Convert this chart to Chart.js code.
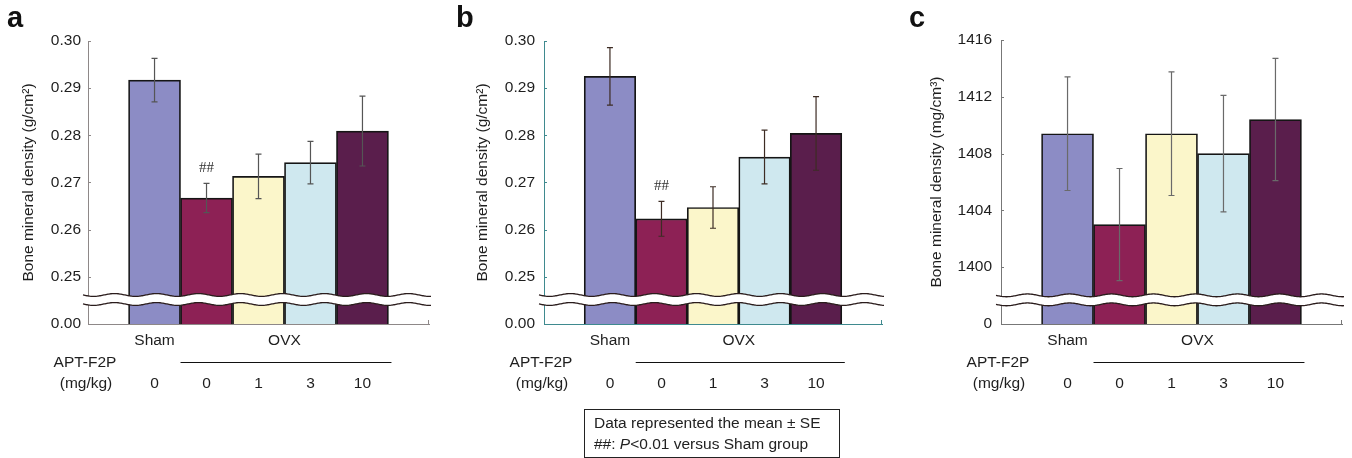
<!DOCTYPE html>
<html>
<head>
<meta charset="utf-8">
<script src="https://cdn.jsdelivr.net/npm/chart.js@4.4.1/dist/chart.umd.min.js"></script>
<style>
body { margin: 0; background: #fff; width: 1352px; height: 458px; position: relative; overflow: hidden; font-family: "Liberation Sans", Arial, sans-serif; color: #222; }
.panel { position: absolute; top: 0; height: 458px; }
.letter { position: absolute; top: 3px; font-weight: bold; font-size: 29px; line-height: 29px; color: #111; }
#note { position: absolute; left: 584px; top: 409px; width: 256px; height: 49px; border: 1px solid #222; box-sizing: border-box; font-size: 15.5px; line-height: 21px; padding: 2px 0 0 9px; }
</style>
</head>
<body>
<div class="panel" style="left:0;width:450px"><canvas id="chartA"></canvas></div>
<div class="panel" style="left:450px;width:450px"><canvas id="chartB"></canvas></div>
<div class="panel" style="left:900px;width:452px"><canvas id="chartC"></canvas></div>
<div class="letter" style="left:7px">a</div>
<div class="letter" style="left:456px">b</div>
<div class="letter" style="left:909px">c</div>
<div id="note">Data represented the mean ± SE<br>##: <i>P</i>&lt;0.01 versus Sham group</div>
<script>
//--------------------------------DATA---------------------------------------
const groups = ['Sham', 'OVX', 'OVX', 'OVX', 'OVX'];
const doses = ['0', '0', '1', '3', '10'];
const sigMarks = ['', '##', '', '', ''];

// panel a
const meanA = [0.2917, 0.2667, 0.2713, 0.2742, 0.2809];
const seA = [0.0046, 0.0031, 0.0047, 0.0045, 0.0074];
// panel b
const meanB = [0.2925, 0.2623, 0.2647, 0.2754, 0.2804];
const seB = [0.0061, 0.0037, 0.0044, 0.0057, 0.0078];
// panel c
const meanC = [1409.4, 1403.0, 1409.4, 1408.0, 1410.4];
const seC = [4.0, 3.95, 4.35, 4.1, 4.3];

// axis ticks (bottom tick stands for the broken "0" part of the axis)
const ticksAB = [0.24, 0.25, 0.26, 0.27, 0.28, 0.29, 0.30];
const tickLabelsAB = ['0.00', '0.25', '0.26', '0.27', '0.28', '0.29', '0.30'];
const ticksC = [1396, 1400, 1404, 1408, 1412, 1416];
const tickLabelsC = ['0', '1400', '1404', '1408', '1412', '1416'];

const barColors = ['#8c8cc5', '#8d2155', '#fbf6ca', '#cfe8ef', '#5a1e4c'];

//--------------------------------PLUGIN---------------------------------------
const extras = {
    id: 'extras',
    afterDatasetsDraw(chart, args, o) {
        const ctx = chart.ctx;
        const ys = chart.scales.y;
        const area = chart.chartArea;
        const bars = chart.getDatasetMeta(0).data;

        // axis break
        const yb = ys.getPixelForValue(o.breakAt);
        const x0 = area.left - 5, x1 = area.right + 2;
        const wave = (x, off) => yb + off + 1.4 * Math.sin((x - x0) / 42 * 2 * Math.PI);
        ctx.save();
        ctx.beginPath();
        for (let x = x0; x <= x1; x++) ctx.lineTo(x, wave(x, -4.5));
        for (let x = x1; x >= x0; x--) ctx.lineTo(x, wave(x, 4.5));
        ctx.closePath();
        ctx.fillStyle = '#fff';
        ctx.fill();
        ctx.strokeStyle = '#2a1c1c';
        ctx.lineWidth = 1.3;
        [-4.5, 4.5].forEach(off => {
            ctx.beginPath();
            for (let x = x0; x <= x1; x++) ctx.lineTo(x, wave(x, off));
            ctx.stroke();
        });

        // error bars
        ctx.strokeStyle = o.errColor;
        ctx.lineWidth = 1.2;
        bars.forEach((bar, i) => {
            const top = ys.getPixelForValue(o.mean[i] + o.se[i]);
            const bot = ys.getPixelForValue(o.mean[i] - o.se[i]);
            ctx.beginPath();
            ctx.moveTo(bar.x, top); ctx.lineTo(bar.x, bot);
            ctx.moveTo(bar.x - 3, top); ctx.lineTo(bar.x + 3, top);
            ctx.moveTo(bar.x - 3, bot); ctx.lineTo(bar.x + 3, bot);
            ctx.stroke();
            if (o.sig && o.sig[i]) {
                ctx.fillStyle = '#333';
                ctx.font = '15px "Liberation Serif", serif';
                ctx.textAlign = 'center';
                ctx.textBaseline = 'middle';
                ctx.fillText(o.sig[i], bar.x, top - 15);
            }
        });

        // small inward ticks on the y axis and end tick on the x axis
        ctx.strokeStyle = o.axisColor;
        ctx.lineWidth = 1;
        ys.ticks.forEach(t => {
            const y = Math.round(ys.getPixelForValue(t.value)) + 0.5;
            ctx.beginPath();
            ctx.moveTo(area.left, y); ctx.lineTo(area.left + 3, y);
            ctx.stroke();
        });
        ctx.beginPath();
        ctx.moveTo(area.right - 0.5, area.bottom); ctx.lineTo(area.right - 0.5, area.bottom - 4);
        ctx.stroke();

        // group and dose labels under the axis
        const b = area.bottom;
        ctx.fillStyle = '#1e1e1e';
        ctx.font = '15.5px "Liberation Sans", Arial, sans-serif';
        ctx.textAlign = 'center';
        ctx.textBaseline = 'middle';
        ctx.fillText(groups[0], bars[0].x, b + 17);
        const ovxX = (bars[1].x + bars[bars.length - 1].x) / 2;
        ctx.fillText(groups[1], ovxX, b + 17);
        doses.forEach((d, i) => ctx.fillText(d, bars[i].x, b + 60));
        ctx.fillText('APT-F2P', area.left - 3, b + 39);
        ctx.fillText('(mg/kg)', area.left - 2, b + 60);

        const last = bars[bars.length - 1];
        ctx.strokeStyle = '#111';
        ctx.lineWidth = 1;
        ctx.beginPath();
        ctx.moveTo(bars[1].x - bars[1].width / 2, Math.round(b + 38) + 0.5);
        ctx.lineTo(last.x + last.width / 2 + 3, Math.round(b + 38) + 0.5);
        ctx.stroke();
        ctx.restore();
    }
};

//--------------------------------CHARTS---------------------------------------
function makeChart(id, p) {
    return new Chart(document.getElementById(id), {
        type: 'bar',
        data: {
            datasets: [{
                data: p.mean.map((v, i) => ({ x: i, y: v })),
                backgroundColor: barColors,
                borderColor: '#151515',
                borderWidth: 1.7,
                borderSkipped: false,
                barPercentage: 1,
                categoryPercentage: 1
            }]
        },
        options: {
            responsive: true,
            maintainAspectRatio: false,
            animation: false,
            layout: { padding: { top: p.top, right: p.padRight, left: 0, bottom: 0 } },
            plugins: {
                legend: { display: false },
                tooltip: { enabled: false },
                extras: p
            },
            scales: {
                x: {
                    type: 'linear',
                    offset: false,
                    min: -1.28,
                    max: 5.28,
                    ticks: { display: false },
                    grid: { display: false, drawTicks: false, offset: false },
                    border: { display: true, color: p.axisColor, width: 1 },
                    afterFit: s => { s.height = 134; }
                },
                y: {
                    min: p.ticks[0],
                    max: p.ticks[p.ticks.length - 1],
                    afterBuildTicks: s => { s.ticks = p.ticks.map(v => ({ value: v })); },
                    afterFit: s => { s.width = p.axisWidth; },
                    ticks: {
                        autoSkip: false,
                        padding: p.tickPad,
                        color: '#1e1e1e',
                        font: { family: '"Liberation Sans", Arial, sans-serif', size: 15.5 },
                        callback: (v, i) => p.tickLabels[i]
                    },
                    grid: { display: false, drawTicks: false },
                    border: { display: true, color: p.axisColor, width: 1 },
                    title: {
                        display: true,
                        text: p.yTitle,
                        color: '#1e1e1e',
                        font: { family: '"Liberation Sans", Arial, sans-serif', size: 15.5 },
                        padding: { top: p.titlePad, bottom: 0 }
                    }
                }
            }
        },
        plugins: [extras]
    });
}

makeChart('chartA', {
    mean: meanA, se: seA, sig: sigMarks, ticks: ticksAB, tickLabels: tickLabelsAB,
    yTitle: 'Bone mineral density (g/cm²)', axisColor: '#8e8888', errColor: '#555',
    top: 41, padRight: 21, axisWidth: 88, tickPad: 7, titlePad: 19, breakAt: 0.2452
});
makeChart('chartB', {
    mean: meanB, se: seB, sig: sigMarks, ticks: ticksAB, tickLabels: tickLabelsAB,
    yTitle: 'Bone mineral density (g/cm²)', axisColor: '#3f8a8f', errColor: '#3d2c24',
    top: 41, padRight: 18, axisWidth: 94, tickPad: 9, titlePad: 23, breakAt: 0.2452
});
makeChart('chartC', {
    mean: meanC, se: seC, sig: null, ticks: ticksC, tickLabels: tickLabelsC,
    yTitle: 'Bone mineral density (mg/cm³)', axisColor: '#777', errColor: '#6a6a6a',
    top: 40, padRight: 10, axisWidth: 101, tickPad: 9, titlePad: 27, breakAt: 1397.7
});
</script>
</body>
</html>
